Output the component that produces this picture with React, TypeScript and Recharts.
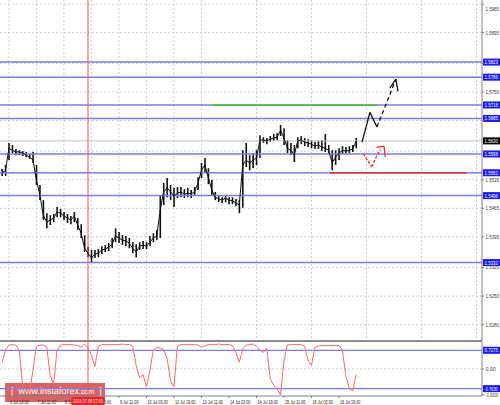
import { ComposedChart, Line, Bar, XAxis, YAxis, CartesianGrid, ReferenceLine } from "recharts";

// hourly bars counted from 6 Jul 19:00, sampled every second bar
const bars = [
  -4, -2, 0, 2, 4, 6, 8, 10, 12, 14, 16, 18, 20, 22, 24, 26, 28, 30, 32, 34,
  36, 38, 40, 42, 44, 46, 48, 50, 52, 54, 56, 58, 60, 62, 64, 66, 68, 70, 72, 74,
  76, 78, 80, 82, 84, 86, 88, 90, 92, 94, 96, 98, 100, 102, 104, 106, 108, 110, 112, 114,
  116, 118, 120, 122, 124, 126, 128, 130, 132, 134, 136, 138, 140, 142, 144, 146, 148, 150, 152, 154,
  156, 158, 160, 162, 164, 166, 168, 170, 172, 174, 176, 178, 180, 182, 184, 186, 188, 190, 192, 194,
  196, 198, 200, 202,
];

const closes = [
  1.5551, 1.5558, 1.5612, 1.5607, 1.5603, 1.5603, 1.56, 1.5595, 1.559, 1.5583, 1.5534, 1.5497, 1.5448, 1.5431, 1.5436, 1.5441, 1.5456, 1.5453, 1.5446, 1.5441,
  1.5436, 1.5446, 1.5424, 1.5404, 1.5367, 1.5355, 1.5343, 1.5353, 1.5355, 1.5363, 1.5365, 1.537, 1.5377, 1.5397, 1.5392, 1.5387, 1.5385, 1.538, 1.5367, 1.5358,
  1.5372, 1.5375, 1.5372, 1.5382, 1.5392, 1.5397, 1.5461, 1.5505, 1.5515, 1.5505, 1.5495, 1.5502, 1.5505, 1.55, 1.5502, 1.55, 1.5505, 1.5527, 1.5558, 1.5571,
  1.5539, 1.551, 1.5492, 1.5488, 1.5485, 1.549, 1.5485, 1.5483, 1.5478, 1.5473, 1.5571, 1.5583, 1.5576, 1.5583, 1.5588, 1.5632, 1.5632, 1.563, 1.5634, 1.5637,
  1.5639, 1.5656, 1.5637, 1.5612, 1.5607, 1.5595, 1.563, 1.5632, 1.5627, 1.5625, 1.5622, 1.5617, 1.562, 1.5615, 1.5612, 1.5607, 1.5576, 1.559, 1.56, 1.5607,
  1.5605, 1.5607, 1.561, 1.563,
];

const highs = [
  1.5561, 1.5571, 1.5625, 1.562, 1.561, 1.5607, 1.5605, 1.5603, 1.5598, 1.5603, 1.5571, 1.5522, 1.5485, 1.5453, 1.5448, 1.5451, 1.5468, 1.5463, 1.5456, 1.5451,
  1.5446, 1.5456, 1.5441, 1.5426, 1.5399, 1.537, 1.5363, 1.5363, 1.5365, 1.5372, 1.5375, 1.538, 1.5392, 1.5416, 1.5407, 1.5399, 1.5397, 1.5392, 1.5382, 1.5377,
  1.5382, 1.5385, 1.5382, 1.5397, 1.5404, 1.5412, 1.5497, 1.5527, 1.5539, 1.5522, 1.5515, 1.5517, 1.5517, 1.5512, 1.5515, 1.551, 1.5517, 1.5541, 1.5576, 1.5588,
  1.5563, 1.5534, 1.5505, 1.5497, 1.5492, 1.5497, 1.5492, 1.5492, 1.5488, 1.5485, 1.5607, 1.5625, 1.5595, 1.56, 1.5607, 1.5644, 1.5639, 1.5637, 1.5642, 1.5647,
  1.5649, 1.5669, 1.5661, 1.5632, 1.5625, 1.562, 1.5639, 1.5642, 1.5637, 1.5634, 1.5632, 1.5627, 1.563, 1.5632, 1.5647, 1.562, 1.5607, 1.5607, 1.5612, 1.5617,
  1.5615, 1.5617, 1.562, 1.5637,
];

const lows = [
  1.5544, 1.5544, 1.5583, 1.56, 1.5595, 1.5595, 1.5593, 1.559, 1.5586, 1.5576, 1.5522, 1.5485, 1.5436, 1.5416, 1.5424, 1.5431, 1.5443, 1.5443, 1.5436, 1.5429,
  1.5426, 1.5431, 1.5412, 1.5392, 1.5358, 1.5345, 1.5331, 1.5343, 1.5345, 1.5353, 1.5358, 1.536, 1.5367, 1.5382, 1.538, 1.5375, 1.5372, 1.5367, 1.5355, 1.5345,
  1.5363, 1.5365, 1.5365, 1.5372, 1.5382, 1.5387, 1.5392, 1.5473, 1.5492, 1.5485, 1.5468, 1.549, 1.5492, 1.549, 1.5492, 1.549, 1.5495, 1.551, 1.5539, 1.5554,
  1.5524, 1.5497, 1.5485, 1.548, 1.5478, 1.548, 1.5475, 1.5475, 1.547, 1.5453, 1.5466, 1.5566, 1.5558, 1.5563, 1.5571, 1.5588, 1.5625, 1.5622, 1.5627, 1.563,
  1.5632, 1.5642, 1.562, 1.56, 1.5595, 1.5578, 1.5612, 1.5622, 1.5617, 1.5615, 1.5612, 1.561, 1.561, 1.5605, 1.5603, 1.56, 1.5558, 1.5571, 1.5583, 1.5598,
  1.5598, 1.56, 1.5603, 1.5612,
];

const oscValues = [
  0.26, 0.73, 0.93, 0.95, 0.93, 0.73, -0.65, -0.85, -0.85, -0.06, 0.89, 0.93, 0.93, 0.85, -0.26, -0.58, 0.73, 0.93, 0.95, 0.95,
  0.95, 0.93, 0.91, 0.85, 0.97, 0.81, 0.54, 0.1, 0.89, 0.95, 0.95, 0.95, 0.95, 0.95, 0.95, 0.97, 0.95, 0.95, 0.89, 0.14,
  -0.34, -0.22, -0.69, -0.06, 0.73, 0.85, 0.81, 0.77, 0.42, -0.46, -0.69, 0.89, 0.95, 0.95, 0.95, 0.95, 0.95, 0.93, 0.85, 0.89,
  0.95, 0.95, 0.95, 0.97, 0.95, 0.95, 0.95, 0.91, 0.65, 0.26, 0.77, 0.93, 0.95, 0.97, 0.89, 0.73, 0.65, 0.81, -0.38, -0.62,
  -0.77, -1.01, 0.34, 0.93, 0.95, 0.95, 0.95, 0.95, 0.89, 0.34, 0.14, 0.85, 0.89, 0.91, 0.91, 0.91, 0.91, 0.91, 0.91, 0.73,
  -0.26, -0.77, -0.85, -0.22,
];

const timeTicks = [0, 16, 32, 48, 64, 80, 96, 112, 128, 144, 160, 176, 192];
const timeLabels = [
  "6 Jul 19:00", "7 Jul 11:00", "8 Jul 03:00", "8 Jul 19:00", "9 Jul 11:00", "10 Jul 03:00", "10 Jul 19:00",
  "13 Jul 11:00", "14 Jul 03:00", "14 Jul 19:00", "15 Jul 11:00", "16 Jul 03:00", "16 Jul 19:00",
];
const gridBars = [0, 16, 32, 48, 64, 80, 96, 112, 128, 144, 160, 176, 192, 208, 224, 240, 256, 272];

const priceTicks = [
  1.5145, 1.518, 1.5215, 1.525, 1.5285, 1.532, 1.5355, 1.5395, 1.543, 1.5465, 1.55, 1.5535,
  1.557, 1.5605, 1.5645, 1.568, 1.5715, 1.575, 1.5785, 1.582, 1.5855, 1.5895, 1.593, 1.5965,
];
const coveredPriceTicks = [1.55, 1.5605, 1.568, 1.5715, 1.5785, 1.582];

const levels = [1.5823, 1.5786, 1.5718, 1.5685, 1.5598, 1.5552, 1.5496, 1.5332];
const lastPrice = 1.563;
const cursorBar = 46;
const cursorLabel = "2015.07.08 17:00";

const oscTicks = [1, 0, -1];
const oscTickLabels = ["1.0000", "0.00", "-1.0000"];
const oscLevels = [0.7275, -0.763];

// drawn forecast (bar, price)
const targetLine = [[118, 1.5718], [214.7, 1.5718]];
const supportLine = [[186.7, 1.5552], [266.4, 1.5552]];
const bullPath = [[205.4, 1.5627], [210, 1.57], [214.1, 1.5664]];
const bullDash = [[214.1, 1.5664], [225.1, 1.5781]];
const bullHead = [[221.6, 1.5759], [225.1, 1.5781], [226.3, 1.5752]];
const bearPath = [[206.1, 1.5599], [211, 1.5567], [215.8, 1.5609]];
const bearHead = [[213.9, 1.5614], [218.2, 1.5617], [218.9, 1.5591]];

const rows = bars.map((t, i) => ({
  t,
  close: closes[i],
  range: [lows[i], highs[i]],
  osc: oscValues[i],
}));

const X_DOMAIN = [-5.2, 275.2];
const FONT = "Liberation Sans, Arial, sans-serif";
const NARROW = "Liberation Sans Narrow, Liberation Sans, sans-serif";
const LEVEL_BLUE = "#7b7bf5";

function AxisText({ x, y, text, fill = "#3a3a3a" }: any) {
  const long = text.length > 6;
  return (
    <text x={x} y={y} fontSize={long ? 4.6 : 5.2} fill={fill} fontFamily={NARROW}
      textLength={long ? 13 : 13.5} lengthAdjust="spacingAndGlyphs">{text}</text>
  );
}

function Tag({ viewBox, text, bg }: any) {
  const x = viewBox.x + viewBox.width;
  const y = viewBox.y;
  return (
    <g>
      <rect x={x + 1} y={y - 3.5} width={17} height={7} fill={bg} />
      <AxisText x={x + 2.5} y={y + 2} text={text} fill="#fff" />
    </g>
  );
}

function PriceTick({ x, y, payload }: any) {
  if (coveredPriceTicks.includes(payload.value)) return null;
  return <AxisText x={x + 0.5} y={y + 2} text={payload.value.toFixed(4)} />;
}

function OscTick({ x, y, payload }: any) {
  const text = oscTickLabels[oscTicks.indexOf(payload.value)];
  return (
    <text x={x + 0.5} y={y + 2} fontSize={text.length > 6 ? 4.6 : 5.2} fill="#3a3a3a" fontFamily={NARROW}
      textLength={text.length > 4 ? 13 : undefined} lengthAdjust="spacingAndGlyphs">{text}</text>
  );
}

function TimeLabel({ viewBox, text }: any) {
  const x = viewBox.x;
  const y = viewBox.y + viewBox.height;
  return (
    <g>
      <line x1={x} x2={x} y1={y} y2={y + 2} stroke="#808080" />
      <text x={x + 1} y={y + 7.5} fontSize={5} fill="#222" fontFamily={FONT}
        textLength={text.length * 1.7} lengthAdjust="spacingAndGlyphs">{text}</text>
    </g>
  );
}

function CursorTag({ viewBox }: any) {
  const x = viewBox.x;
  const y = viewBox.y + viewBox.height;
  return (
    <g>
      <rect x={x - 16.5} y={y + 1} width={33} height={8} fill="#ff1c1c" />
      <text x={x} y={y + 7} fontSize={5} fill="#fff" textAnchor="middle" fontFamily={FONT}
        textLength={30} lengthAdjust="spacingAndGlyphs">{cursorLabel}</text>
    </g>
  );
}

function seg(pts: number[][], i: number) {
  return [{ x: pts[i][0], y: pts[i][1] }, { x: pts[i + 1][0], y: pts[i + 1][1] }];
}

function Polyline(pts: number[][], stroke: string, key: string, dash?: string, width = 1.3) {
  return pts.slice(0, -1).map((_, i) => (
    <ReferenceLine
      key={key + i}
      segment={seg(pts, i) as any}
      stroke={stroke}
      strokeWidth={width}
      strokeDasharray={dash}
    />
  ));
}

export default function App() {
  return (
    <div style={{ position: "absolute", left: 0, top: 0, width: 500, height: 405, background: "#fff", overflow: "hidden" }}>
      <div
        style={{
          position: "absolute",
          left: 5,
          top: 383,
          width: 100,
          height: 19,
          background: "rgba(214, 72, 72, 0.85)",
          color: "#fff",
          fontFamily: FONT,
          fontSize: 9,
          lineHeight: "17px",
          whiteSpace: "nowrap",
          boxSizing: "border-box",
          paddingLeft: 6,
        }}
      >
        [&nbsp; www.instaforex<span style={{ fontSize: 7 }}>.com</span>&nbsp; ]
      </div>

      <ComposedChart width={500} height={341} data={rows} margin={{ top: 0, right: 0, bottom: 0, left: 0 }}>
        <CartesianGrid stroke="#cfcfcf" strokeDasharray="2 2" verticalValues={gridBars} horizontalValues={priceTicks} />
        <XAxis dataKey="t" type="number" domain={X_DOMAIN} ticks={gridBars} hide allowDataOverflow />
        <YAxis
          orientation="right"
          width={18}
          domain={[1.514, 1.5975]}
          ticks={priceTicks}
          allowDataOverflow
          tickSize={2}
          tickMargin={1}
          tickLine={{ stroke: "#808080" }}
          axisLine={{ stroke: "#808080" }}
          tick={<PriceTick />}
        />
        {levels.map((v) => (
          <ReferenceLine key={v} y={v} stroke={LEVEL_BLUE} strokeWidth={1.5}
            label={<Tag text={v.toFixed(4)} bg="#1a1aff" />} />
        ))}
        <ReferenceLine y={lastPrice} stroke="#c0c0c0" strokeWidth={1}
          label={<Tag text={lastPrice.toFixed(4)} bg="#000" />} />
        <ReferenceLine x={cursorBar} stroke="#ff5050" strokeWidth={1} />
        {Polyline(targetLine, "#5cbd5c", "g", undefined, 2)}
        {Polyline(supportLine, "#e02a2a", "r", undefined, 1.6)}
        <Bar dataKey="range" barSize={1.6} fill="#111" isAnimationActive={false} />
        <Line dataKey="close" type="linear" stroke="#111" strokeWidth={1} dot={false} activeDot={false} isAnimationActive={false} />
        {Polyline(bullPath, "#111", "b")}
        {Polyline(bullDash, "#111", "bd", "4 3")}
        {Polyline(bullHead, "#111", "bh")}
        {Polyline(bearPath, "#ff2a2a", "d", "3 1.5")}
        {Polyline(bearHead, "#ff2a2a", "dh")}
      </ComposedChart>

      <div style={{ position: "absolute", left: 0, top: 340, width: 482, height: 2, background: "#8a8a8a" }} />

      <div style={{ position: "absolute", left: 0, top: 341 }}>
        <ComposedChart width={500} height={64} data={rows} margin={{ top: 1, right: 0, bottom: 0, left: 0 }}>
          <CartesianGrid stroke="#cfcfcf" strokeDasharray="2 2" verticalValues={gridBars} horizontalValues={[0]} />
          <XAxis
            dataKey="t"
            type="number"
            domain={X_DOMAIN}
            ticks={timeTicks}
            allowDataOverflow
            height={9}
            tick={false}
            tickLine={false}
            axisLine={{ stroke: "#808080" }}
          />
          <YAxis
            orientation="right"
            width={18}
            domain={[-1.05, 1.05]}
            ticks={oscTicks}
            allowDataOverflow
            tickSize={2}
            tickMargin={1}
            tickLine={{ stroke: "#808080" }}
            axisLine={{ stroke: "#808080" }}
            tick={<OscTick />}
          />
          {oscLevels.map((v) => (
            <ReferenceLine key={v} y={v} stroke={LEVEL_BLUE} strokeWidth={1.3}
              label={<Tag text={v.toFixed(4)} bg="#1a1aff" />} />
          ))}
          <Line dataKey="osc" type="linear" stroke="#ff6a6a" strokeWidth={1} dot={false} activeDot={false} isAnimationActive={false} />
          {timeTicks.map((t, i) => (
            <ReferenceLine key={"t" + t} x={t} stroke="none" label={<TimeLabel text={timeLabels[i]} />} />
          ))}
          <ReferenceLine x={cursorBar} stroke="#ff5050" strokeWidth={1} label={<CursorTag />} />
        </ComposedChart>
      </div>
    </div>
  );
}
